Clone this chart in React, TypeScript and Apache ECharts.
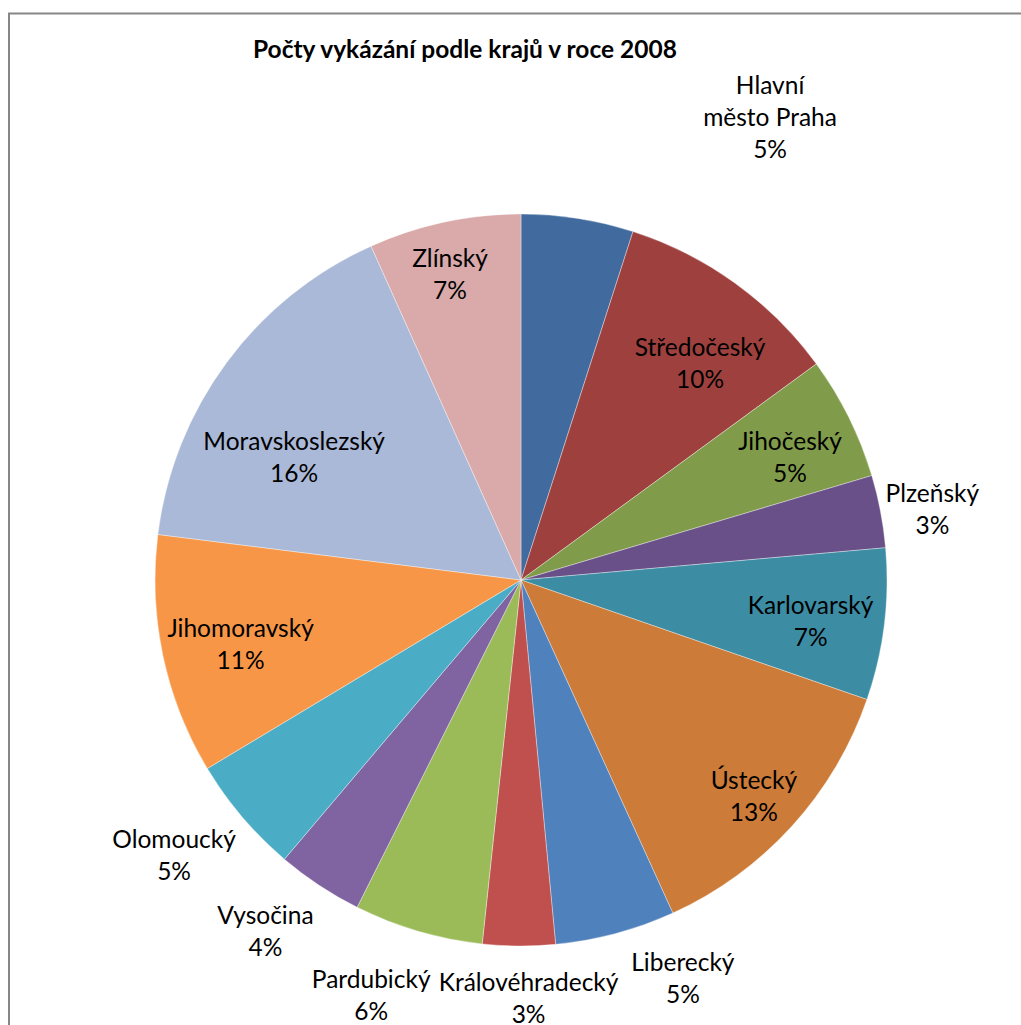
import React, { useEffect, useRef } from 'react';
import * as echarts from 'echarts';

const titleText = 'Počty vykázání podle krajů v roce 2008';
const regions = [
  'Hlavní město Praha',
  'Středočeský',
  'Jihočeský',
  'Plzeňský',
  'Karlovarský',
  'Ústecký',
  'Liberecký',
  'Královéhradecký',
  'Pardubický',
  'Vysočina',
  'Olomoucký',
  'Jihomoravský',
  'Moravskoslezský',
  'Zlínský',
];
const counts = [495, 1000, 545, 320, 670, 1290, 530, 320, 570, 380, 520, 1060, 1630, 672];
const colors = [
  '#416A9E', '#9E413E', '#809C4A', '#6A5088', '#3C8DA4', '#CC7B38', '#4F81BD',
  '#C0504D', '#9BBB59', '#8064A2', '#4BACC6', '#F79646', '#AAB9D7', '#D9AAA9',
];
// label placement (style): outside ring or inside, plus small nudges mimicking Excel's "best fit"
const labelOutside = [true, false, false, true, false, false, true, true, true, true, true, false, false, false];
const labelNudge = [
  [182, -36], [6, 22], [4, 8], [-14, 10], [-4, 4], [14, 17], [50, -21],
  [10, -16], [-28, -1], [-17, -11], [-17, -6], [9, 2], [11, 52], [-9, -17],
];

const FONT = 'Lato, "Open Sans", sans-serif';

export default function App() {
  const ref = useRef<HTMLDivElement>(null);
  useEffect(() => {
    document.body.style.margin = '0';
    const chart = echarts.init(ref.current!, null, { renderer: 'svg' });
    const center = [521, 580];
    const R = 366;
    const fmt = (p: any) => {
      const nm = p.dataIndex === 0 ? p.name.replace(' ', '\n') : p.name;
      return `${nm}\n${Math.round(p.percent)}%`;
    };
    const labelStyle = {
      position: 'inside',
      formatter: fmt,
      fontFamily: FONT,
      fontSize: 24.5,
      lineHeight: 32,
      color: '#000',
    };
    const nudge = (p: any) => ({ dx: labelNudge[p.dataIndex][0], dy: labelNudge[p.dataIndex][1] });
    const base = {
      type: 'pie',
      center,
      startAngle: 90,
      clockwise: true,
      silent: true,
      avoidLabelOverlap: false,
      labelLine: { show: false },
      emphasis: { disabled: true },
    };
    chart.setOption({
      animation: false,
      title: {
        text: titleText,
        left: 248,
        top: 31,
        textStyle: { fontFamily: FONT, fontSize: 24.5, fontWeight: 'bold', color: '#000' },
      },
      graphic: [
        {
          type: 'rect',
          shape: { x: 9, y: 13.5, width: 1200, height: 1200 },
          style: { fill: 'none', stroke: '#878787', lineWidth: 2 },
          silent: true,
        },
      ],
      series: [
        {
          ...base,
          radius: [0, R],
          label: { show: false },
          data: regions.map((n, i) => ({
            name: n,
            value: counts[i],
            itemStyle: { color: colors[i], borderColor: 'rgba(255,255,255,0.45)', borderWidth: 0.8 },
          })),
        },
        {
          ...base,
          radius: [R * 0.6, R],
          labelLayout: nudge,
          data: regions.map((n, i) => ({
            name: n,
            value: counts[i],
            itemStyle: { color: 'rgba(0,0,0,0)' },
            label: { ...labelStyle, show: !labelOutside[i] },
          })),
        },
        {
          ...base,
          radius: [R, R * 1.35],
          labelLayout: nudge,
          data: regions.map((n, i) => ({
            name: n,
            value: counts[i],
            itemStyle: { color: 'rgba(0,0,0,0)' },
            label: { ...labelStyle, show: labelOutside[i] },
          })),
        },
      ],
    });
    return () => chart.dispose();
  }, []);
  return <div ref={ref} style={{ width: 1021, height: 1025 }} />;
}
